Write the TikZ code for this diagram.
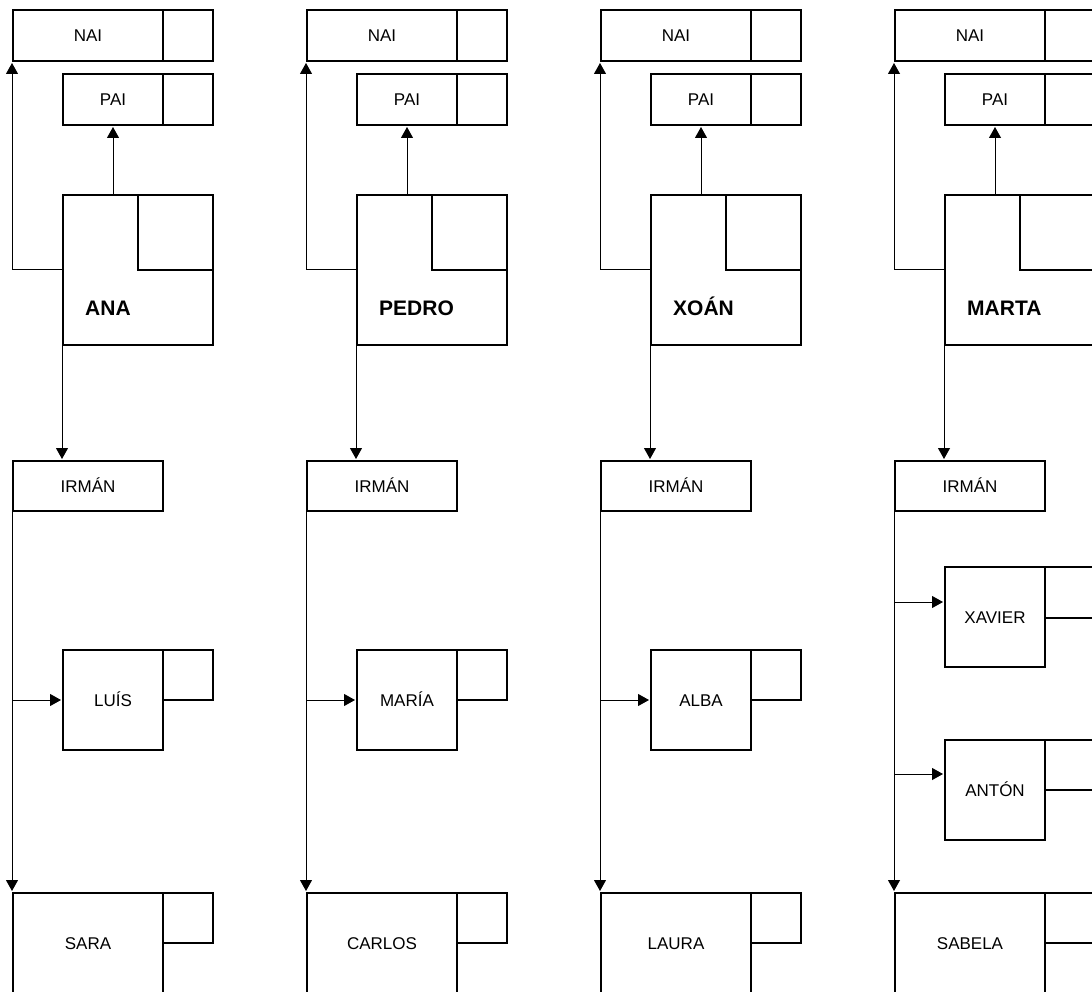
\documentclass[tikz,border=0pt]{standalone}
\usepackage{fontspec}
\setmainfont{Liberation Sans}
\usepackage{tikz}
\usetikzlibrary{arrows.meta, calc}

\begin{document}
\begin{tikzpicture}[x=1pt, y=-1pt]
    % Define the style for the nodes
    \tikzstyle{cell} = [rectangle, draw, line width=2pt, inner sep=0pt, text height=12pt, text depth=0pt, font=\fontsize{17}{20}\selectfont]
    \tikzstyle{nome} = [anchor=base west, inner sep=0pt, font=\bfseries\fontsize{21}{24}\selectfont]
    \tikzstyle{line} = [draw, -{Triangle[length=11pt, width=12pt]}, line width=1pt, shorten >=1pt]

    \useasboundingbox (0,0) rectangle (1092,992);
    \clip (0,0) rectangle (1092,992);

    % Place the columns
    \foreach \col/\name/\last in {0/ANA/SARA, 1/PEDRO/CARLOS, 2/XOÁN/LAURA, 3/MARTA/SABELA} {
      \begin{scope}[xshift=\col*294pt]
        \node [cell, minimum width=150pt, minimum height=51pt] (nai\col) at (88,35.5) {NAI};
        \node [cell, minimum width=50pt, minimum height=51pt] (naislot\col) at (188,35.5) {};
        \node [cell, minimum width=100pt, minimum height=51pt] (pai\col) at (113,99.5) {PAI};
        \node [cell, minimum width=50pt, minimum height=51pt] (paislot\col) at (188,99.5) {};
        \node [cell, minimum size=150pt] (person\col) at (138,270) {};
        \node [cell, minimum size=75pt] (personslot\col) at (175.5,232.5) {};
        \node [nome] (name\col) at (85,316) {\name};
        \node [cell, minimum width=150pt, minimum height=50pt] (irman\col) at (88,486) {IRMÁN};
        \node [cell, minimum width=150pt, minimum height=100pt] (last\col) at (88,943) {\last};
        \node [cell, minimum size=50pt] (lastslot\col) at (188,918) {};

        % Connect the nodes with paths
        \path [line] (pai\col.south |- person\col.north) -- (pai\col.south);
        \path [line] (person\col.west) -| (nai\col.south west);
        \path [line] (person\col.south west) -- (person\col.south west |- irman\col.north);
        \path [line] (irman\col.south west) -- (last\col.north west);
      \end{scope}
    }

    % One child in the middle
    \foreach \col/\kid in {0/LUÍS, 1/MARÍA, 2/ALBA} {
      \begin{scope}[xshift=\col*294pt]
        \node [cell, minimum size=100pt] (kid\col) at (113,700) {\kid};
        \node [cell, minimum size=50pt] (kidslot\col) at (188,675) {};
        \path [line] (irman\col.south west |- kid\col.west) -- (kid\col.west);
      \end{scope}
    }

    % Two children for the last column
    \node [cell, minimum size=100pt] (xavier) at (995,617) {XAVIER};
    \node [cell, minimum width=50pt, minimum height=51pt] (xavierslot) at (1070,592.5) {};
    \node [cell, minimum size=100pt] (anton) at (995,790) {ANTÓN};
    \node [cell, minimum size=50pt] (antonslot) at (1070,765) {};
    \coordinate (xavierin) at ($(xavier.west)+(0,-15)$);
    \coordinate (antonin) at ($(anton.west)+(0,-16)$);
    \path [line] (irman3.south west |- xavierin) -- (xavierin);
    \path [line] (irman3.south west |- antonin) -- (antonin);
\end{tikzpicture}
\end{document}
